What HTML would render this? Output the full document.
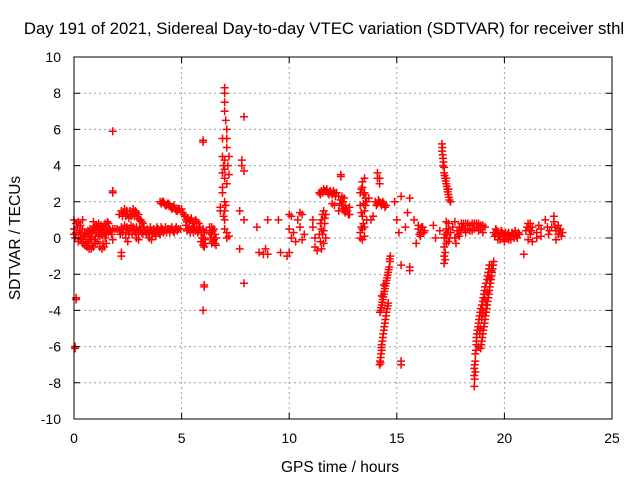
<!DOCTYPE html>
<html><head><meta charset="utf-8"><style>
body{margin:0;background:#fff}
svg text{font-family:"Liberation Sans",sans-serif;font-size:14px;fill:#000}
</style></head><body>
<svg id="chart" width="640" height="480" xmlns="http://www.w3.org/2000/svg">
<text x="324" y="34" text-anchor="middle" style="font-size:16.8px">Day 191 of 2021, Sidereal Day-to-day VTEC variation (SDTVAR) for receiver sthl</text>
<g id="grid"></g>
<g id="marks"></g>
<rect x="74" y="57" width="538" height="362" fill="none" stroke="#000" stroke-width="1"/>
<g id="ticks"></g>
<text x="340" y="472" text-anchor="middle" style="font-size:15.5px">GPS time / hours</text>
<text transform="translate(20,238) rotate(-90)" text-anchor="middle" style="font-size:15.5px">SDTVAR / TECUs</text>
</svg>
<script>
const xTicks=[0,5,10,15,20,25];
const yTicks=[-10,-8,-6,-4,-2,0,2,4,6,8,10];
const samples=[
[0.0,0.5],[0.0,0.2],[0.0,1.0],[0.05,0.0],[0.1,0.8],[0.1,0.3],[0.2,0.9],[0.2,0.0],[0.2,-0.2],[0.3,0.7],[0.3,-0.1],[0.3,0.2],
[0.4,0.5],[0.4,-0.3],[0.5,0.3],[0.5,-0.4],[0.5,0.1],[0.6,0.2],[0.6,-0.5],[0.7,0.2],[0.7,-0.6],[0.8,0.3],[0.8,-0.6],[0.8,0.0],
[0.9,0.4],[0.9,-0.5],[1.0,0.5],[1.0,-0.3],[1.0,0.1],[1.1,0.6],[1.1,-0.2],[1.2,0.5],[1.2,0.1],[1.2,-0.5],[1.3,0.4],[1.3,0.2],[1.3,-0.6],
[1.4,0.3],[1.4,0.5],[1.4,-0.5],[1.5,0.2],[1.5,0.6],[1.5,-0.3],[1.6,0.3],[1.6,0.8],[1.7,0.4],[1.8,0.5],[1.8,-0.1],[0.4,1.0],[0.9,0.9],
[0.1,-3.4],[0.1,-3.3],[0.05,-6.0],[0.05,-6.1],[1.8,5.9],[1.8,2.6],[1.8,2.5],[2.2,-0.8],[2.2,-1.0],[1.9,0.5],
[2.1,1.3],[2.2,1.5],[2.3,1.4],[2.4,1.2],[2.5,1.3],[2.6,1.5],[2.7,1.3],[2.8,1.2],[2.9,1.4],[3.0,1.3],[3.1,1.0],[3.2,0.8],
[2.0,0.5],[2.1,0.4],[2.2,0.6],[2.3,0.5],[2.4,0.3],[2.5,0.5],[2.6,0.4],[2.7,0.2],[2.8,0.5],[2.9,0.6],[3.0,0.3],[3.1,0.5],[3.2,0.2],[3.3,0.4],
[2.4,0.0],[2.5,-0.2],[2.9,0.0],[3.0,-0.1],[3.4,0.5],[3.5,0.3],[3.6,0.4],[3.7,0.5],[3.8,0.3],[3.9,0.5],[4.0,0.4],[4.1,0.5],[4.2,0.4],[4.3,0.3],
[4.4,0.5],[4.5,0.5],[4.6,0.4],[4.7,0.5],[4.8,0.4],[3.5,0.0],[3.6,-0.1],[3.8,0.1],[4.0,0.2],
[4.0,2.0],[4.1,2.0],[4.2,1.9],[4.3,1.8],[4.4,1.9],[4.5,1.7],[4.6,1.7],[4.7,1.6],[4.8,1.5],[4.9,1.6],[5.0,1.6],[5.1,1.3],[5.2,1.0],[5.3,1.1],[5.4,1.0],[5.5,0.9],
[5.2,0.7],[5.3,0.5],[5.4,0.3],[5.5,0.5],[5.6,0.6],[5.7,0.5],[5.8,0.4],[5.9,0.3],[6.0,0.5],[5.7,0.9],[5.8,0.8],[5.9,-0.2],[6.0,-0.4],[6.0,0.0],[6.1,-0.3],
[6.0,5.3],[6.0,5.4],[6.05,-2.6],[6.05,-2.7],[6.0,-4.0],[6.3,0.3],[6.4,0.2],[6.4,0.6],[6.5,0.5],[6.5,-0.1],[6.6,0.0],[6.6,-0.4],[6.4,-0.3],[6.3,0.6],
[6.9,5.5],[6.9,4.5],[7.0,8.3],[7.0,8.0],[7.0,7.5],[7.0,7.0],[7.05,6.5],[7.1,6.0],[7.1,5.5],[7.1,5.0],[7.0,4.3],[7.0,3.8],[7.0,3.3],[7.1,3.0],
[7.2,4.5],[7.15,4.0],[7.2,3.5],[6.95,4.0],[6.9,3.6],[6.9,2.8],[6.9,2.5],[7.0,2.0],[7.0,1.5],[7.0,1.0],[7.0,0.5],[7.1,0.3],[7.1,0.0],[7.2,0.1],[6.8,1.7],[6.8,1.5],[7.05,1.8],[6.95,1.2],
[7.9,6.7],[7.8,4.3],[7.8,4.0],[7.9,3.7],[7.7,1.5],[7.9,1.0],[7.7,-0.6],[7.9,-2.5],
[8.5,0.6],[8.6,-0.8],[9.0,1.0],[9.0,-0.9],[8.9,-0.6],[8.8,-0.9],[9.5,1.0],[9.6,-0.8],[9.9,-1.0],[10.0,-0.8],[10.0,1.3],[10.1,1.2],[10.0,0.5],[10.1,0.0],[10.2,0.3],
[10.3,-0.2],[10.5,1.4],[10.6,1.3],[10.5,0.6],[10.6,-0.1],[10.7,0.2],[10.4,1.0],
[11.1,0.6],[11.2,0.0],[11.2,-0.5],[11.3,-0.7],[11.1,1.0],[11.4,2.5],[11.5,2.6],[11.6,2.7],[11.7,2.6],[11.8,2.5],[11.9,2.6],[12.0,2.4],[12.1,2.5],[12.2,2.5],
[11.5,1.0],[11.6,0.4],[11.7,0.0],[11.5,0.5],[11.4,0.2],[11.6,1.5],[11.7,1.3],[11.6,-0.3],[11.5,-0.6],[12.0,1.9],[12.1,1.8],[12.4,3.4],[12.4,3.5],
[12.3,2.3],[12.4,2.1],[12.5,2.0],[12.6,1.8],[12.7,1.5],[12.8,1.3],[12.6,1.4],[12.5,1.6],[12.8,1.7],[12.3,1.5],
[13.4,2.8],[13.5,3.3],[13.4,3.1],[13.3,2.5],[13.6,2.0],[13.5,1.5],[13.4,0.5],[13.3,0.0],[13.5,0.6],[13.6,1.0],[13.5,2.5],[13.7,2.2],[13.3,1.8],[13.4,1.2],[13.3,0.3],
[14.1,3.6],[14.2,3.3],[14.2,3.0],[14.0,2.0],[14.1,1.9],[14.2,2.0],[14.3,1.8],[14.4,1.9],[14.5,1.8],[13.9,1.2],[13.8,1.0],
[14.7,-1.0],[14.68,-1.3],[14.65,-1.6],[14.6,-1.9],[14.55,-2.2],[14.5,-2.5],[14.45,-2.8],[14.4,-3.1],[14.35,-3.4],[14.3,-3.7],[14.25,-4.0],[14.3,-3.2],[14.4,-2.6],
[14.6,-3.6],[14.55,-3.9],[14.5,-4.3],[14.45,-4.7],[14.4,-5.1],[14.35,-5.5],[14.3,-5.9],[14.3,-6.2],[14.25,-6.6],[14.2,-7.0],[14.25,-6.9],
[15.0,1.0],[15.2,2.3],[15.2,-7.0],[15.2,-6.8],[15.2,-1.5],[14.9,2.0],[15.1,0.3],[15.6,-1.6],[15.6,-1.8],[15.6,2.2],[15.8,1.0],[15.9,-0.3],[15.5,1.4],[15.4,0.6],
[16.0,0.5],[16.1,0.3],[16.2,0.6],[16.3,0.4],[16.1,0.1],[16.7,0.7],[17.0,0.4],[16.8,0.0],
[17.1,5.2],[17.1,4.8],[17.15,4.4],[17.15,4.0],[17.2,3.6],[17.25,3.3],[17.3,3.0],[17.35,2.7],[17.4,2.4],[17.45,2.1],[17.5,2.0],[17.2,3.9],
[17.2,0.0],[17.2,-0.5],[17.2,-1.0],[17.2,-1.4],[17.3,0.5],[17.4,0.5],[17.5,0.3],[17.3,-0.3],[17.4,-0.2],[17.3,0.9],
[17.6,0.6],[17.7,0.0],[17.75,-0.3],[17.8,0.4],[17.9,0.6],[18.0,0.5],[18.2,0.3],[17.9,0.1],[17.7,0.9],
[18.0,0.8],[18.2,0.8],[18.4,0.7],[18.6,0.8],[18.8,0.8],[19.0,0.7],[18.3,0.5],[18.5,0.4],[18.7,0.6],[19.0,0.3],[18.9,0.5],
[19.5,-1.3],[19.45,-1.7],[19.4,-2.1],[19.35,-2.5],[19.3,-2.9],[19.25,-3.3],[19.2,-3.7],[19.15,-4.1],[19.1,-4.5],[19.05,-4.9],[19.0,-5.3],[18.95,-5.7],[18.9,-6.1],
[19.3,-1.5],[19.25,-1.9],[19.2,-2.3],[19.1,-2.7],[19.05,-3.1],[19.0,-3.5],[18.9,-3.9],[18.85,-4.3],[18.8,-4.7],[18.75,-5.1],[18.7,-5.5],[18.7,-5.9],[18.65,-6.4],
[18.65,-6.8],[18.6,-7.2],[18.6,-7.6],[18.6,-8.2],[18.65,-7.4],[18.8,-6.0],[18.9,-5.0],[19.4,-1.8],[19.35,-2.3],[19.0,-4.2],
[19.5,0.3],[19.6,0.2],[19.7,0.3],[19.8,0.1],[19.9,0.3],[20.0,0.2],[20.1,0.0],[20.2,0.3],[20.3,0.1],[20.4,0.2],[20.5,0.3],[20.6,0.0],[20.7,0.2],[19.6,0.5],[19.8,-0.1],[20.2,-0.1],[20.5,0.4],[20.0,-0.2],
[21.0,0.4],[21.1,0.8],[21.2,0.8],[21.3,0.6],[21.2,0.2],[21.1,-0.1],[21.3,-0.2],[21.5,0.0],[21.5,0.3],[21.7,0.5],[21.7,0.1],[21.6,0.7],
[21.9,1.0],[22.0,0.6],[22.1,0.4],[22.3,1.2],[22.3,0.9],[22.4,0.4],[22.5,0.2],[22.6,0.5],[22.7,0.3],[22.4,-0.1],[20.9,-0.9],[22.5,0.7]
];
const denseSamples=[
[0.15,0.6],[0.25,0.4],[0.35,0.0],[0.45,0.1],[0.55,-0.2],[0.65,-0.3],[0.75,-0.1],[0.85,-0.4],[0.95,-0.1],[1.05,0.3],[1.15,0.2],[1.25,0.3],[1.35,-0.3],[1.45,0.0],[1.55,0.4],[1.65,0.5],[1.75,0.2],
[0.65,0.4],[0.75,0.5],[0.85,0.5],[0.95,0.6],[1.05,0.7],[1.15,0.8],[1.25,0.7],[1.35,0.6],[1.45,0.8],[1.55,0.9],
[2.15,0.2],[2.25,0.3],[2.35,0.7],[2.45,0.6],[2.55,0.2],[2.65,0.7],[2.75,0.6],[2.85,0.3],[2.95,0.4],[3.05,0.6],[3.15,0.3],[3.25,0.6],[3.35,0.2],
[2.25,1.2],[2.35,1.6],[2.45,1.5],[2.55,1.1],[2.65,1.2],[2.75,1.6],[2.85,1.5],[2.95,1.1],[3.05,1.0],[3.15,0.9],
[3.45,0.2],[3.55,0.6],[3.65,0.2],[3.75,0.3],[3.85,0.6],[3.95,0.3],[4.05,0.6],[4.15,0.3],[4.25,0.6],[4.35,0.5],[4.45,0.3],[4.55,0.6],[4.65,0.3],[4.75,0.6],[4.85,0.5],[4.95,0.5],
[4.05,1.9],[4.15,2.0],[4.25,1.8],[4.35,1.9],[4.45,1.8],[4.55,1.6],[4.65,1.8],[4.75,1.5],[4.85,1.6],[5.05,1.4],[5.15,1.2],[5.25,0.9],[5.35,0.9],[5.45,1.1],[5.55,0.8],[5.65,1.0],
[5.25,0.4],[5.35,0.6],[5.45,0.5],[5.55,0.3],[5.65,0.4],[5.75,0.3],[5.85,0.6],[5.95,0.0],[6.05,0.3],[6.1,-0.1],[6.15,0.4],[6.05,-0.5],
[6.35,0.0],[6.45,0.4],[6.55,0.2],[6.45,-0.2],[6.55,-0.3],
[11.45,2.4],[11.55,2.5],[11.65,2.6],[11.75,2.7],[11.85,2.4],[11.95,2.5],[12.05,2.6],[12.15,2.3],[11.45,0.8],[11.55,0.2],[11.65,0.8],[11.55,1.3],[11.45,-0.2],[11.65,1.1],
[12.35,1.9],[12.45,1.8],[12.55,1.5],[12.65,1.6],[12.75,1.3],[12.45,2.3],[12.55,2.2],
[13.35,2.7],[13.45,2.4],[13.55,2.2],[13.45,1.9],[13.55,1.8],[13.35,1.4],[13.45,0.8],[13.35,0.6],[13.5,0.1],[13.4,-0.1],
[14.05,1.8],[14.15,2.1],[14.25,1.9],[14.35,2.0],[14.45,1.7],[14.1,3.3],
[14.67,-1.15],[14.62,-1.75],[14.57,-2.05],[14.52,-2.35],[14.47,-2.65],[14.42,-2.95],[14.37,-3.25],[14.32,-3.55],[14.27,-3.85],[14.22,-4.1],
[14.58,-3.75],[14.52,-4.1],[14.47,-4.5],[14.42,-4.9],[14.37,-5.3],[14.33,-5.7],[14.28,-6.05],[14.27,-6.4],[14.22,-6.8],
[16.05,0.2],[16.15,0.6],[16.25,0.3],[16.0,0.7],
[17.12,5.0],[17.13,4.6],[17.17,4.2],[17.22,3.45],[17.27,3.15],[17.32,2.85],[17.37,2.55],[17.42,2.25],[17.3,3.3],[17.4,2.7],
[17.25,0.2],[17.25,-0.8],[17.25,-1.2],[17.3,0.0],[17.35,0.3],[17.45,0.0],[17.4,0.8],
[17.85,0.2],[17.95,0.4],[18.05,0.6],[18.15,0.5],[18.1,0.8],[18.3,0.8],[18.5,0.8],[18.7,0.8],[18.9,0.7],[19.1,0.6],[18.4,0.4],[18.6,0.5],[18.8,0.4],
[19.48,-1.5],[19.42,-1.9],[19.38,-2.3],[19.32,-2.7],[19.28,-3.1],[19.22,-3.5],[19.18,-3.9],[19.12,-4.3],[19.08,-4.7],[19.02,-5.1],[18.97,-5.5],[18.92,-5.9],
[19.28,-1.7],[19.22,-2.1],[19.15,-2.5],[19.08,-2.9],[19.02,-3.3],[18.95,-3.7],[18.88,-4.1],[18.82,-4.5],[18.78,-4.9],[18.72,-5.3],[18.7,-5.7],[18.68,-6.2],[18.62,-7.0],[18.62,-7.8],
[19.2,-3.0],[19.1,-3.4],[19.0,-4.0],[18.95,-4.5],[19.3,-2.2],[19.4,-1.5],[19.15,-3.7],[18.85,-5.3],
[19.55,0.1],[19.65,0.4],[19.75,0.1],[19.85,0.4],[19.95,0.0],[20.05,0.3],[20.15,0.2],[20.25,0.1],[20.35,0.3],[20.45,0.0],[20.55,0.1],[20.65,0.3],[19.7,-0.1],[20.3,-0.1],
[21.05,0.6],[21.15,0.5],[21.25,0.4],[22.05,0.2],[22.2,0.6],[22.35,0.6],[22.55,0.4],[22.65,0.1]
];
const X=h=>74+h*538/25;
const Y=v=>238-v*362/20;
const NS="http://www.w3.org/2000/svg";
const grid=document.getElementById('grid'),ticks=document.getElementById('ticks'),marks=document.getElementById('marks');
xTicks.forEach(t=>{
  if(t>0&&t<25){const l=document.createElementNS(NS,'line');
  
  
  l.setAttribute('x1',X(t));l.setAttribute('x2',X(t));l.setAttribute('y1',57);l.setAttribute('y2',419);
  l.setAttribute('stroke','#a0a0a0');l.setAttribute('stroke-dasharray','2,3');grid.appendChild(l);}
  const tk=document.createElementNS(NS,'path');
  
  
  tk.setAttribute('d',`M${X(t)},419v-6M${X(t)},57v6`);tk.setAttribute('stroke','#000');ticks.appendChild(tk);
  const tx=document.createElementNS(NS,'text');
  
  
  tx.setAttribute('x',X(t));tx.setAttribute('y',443);tx.setAttribute('text-anchor','middle');tx.textContent=t;ticks.appendChild(tx);
});
yTicks.forEach(t=>{
  if(t>-10&&t<10){const l=document.createElementNS(NS,'line');
  
  
  l.setAttribute('x1',74);l.setAttribute('x2',612);l.setAttribute('y1',Y(t));l.setAttribute('y2',Y(t));
  l.setAttribute('stroke','#a0a0a0');l.setAttribute('stroke-dasharray','2,3');grid.appendChild(l);}
  const tk=document.createElementNS(NS,'path');
  
  
  tk.setAttribute('d',`M74,${Y(t)}h6M612,${Y(t)}h-6`);tk.setAttribute('stroke','#000');ticks.appendChild(tk);
  const tx=document.createElementNS(NS,'text');
  
  
  tx.setAttribute('x',61);tx.setAttribute('y',Y(t)+5);tx.setAttribute('text-anchor','end');tx.textContent=t;ticks.appendChild(tx);
});
samples.concat(denseSamples).forEach(p=>{
  const x=X(p[0]),y=Y(p[1]);
  const m=document.createElementNS(NS,'path');
  
  
  m.setAttribute('d',`M${x-4},${y}h8M${x},${y-4}v8`);
  m.setAttribute('stroke','#ff0000');m.setAttribute('stroke-width','1.5');
  marks.appendChild(m);
});
</script>
</body></html>
